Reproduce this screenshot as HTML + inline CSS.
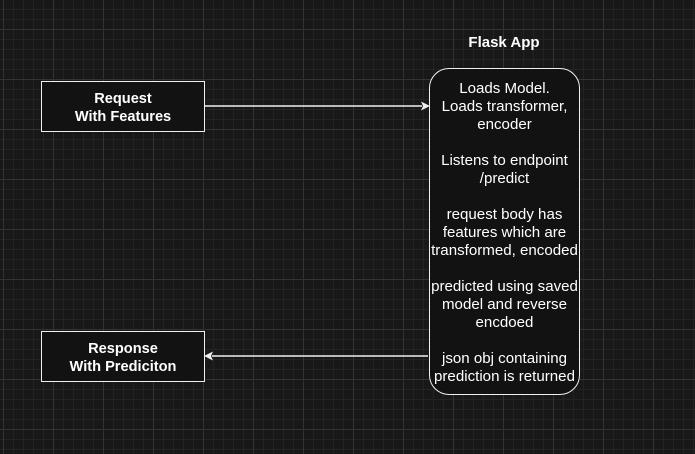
<!DOCTYPE html>
<html><head><style>
html,body{margin:0;padding:0}
body{width:695px;height:454px;overflow:hidden;position:relative;font-family:"Liberation Sans",Arial,sans-serif;
background-color:#181818;
background-image:
linear-gradient(90deg,#333 1px,transparent 1px),
linear-gradient(0deg,#333 1px,transparent 1px),
linear-gradient(90deg,#232323 1px,transparent 1px),
linear-gradient(0deg,#232323 1px,transparent 1px);
background-size:50px 50px,50px 50px,10px 10px,10px 10px;
background-position:3px 0,0 30px,3px 0,0 0;}
.box{position:absolute;box-sizing:border-box;border:1.5px solid #f0f0f0;background:#121212;color:#fff;display:flex;align-items:center;justify-content:center;text-align:center;}
.b{font-weight:bold;font-size:14.6px;line-height:18px;padding-top:2px}
</style></head><body>
<div class="box b" style="left:41px;top:81px;width:164px;height:51px">Request<br>With Features</div>
<div class="box b" style="left:41px;top:331px;width:164px;height:51px">Response<br>With Prediciton</div>
<div style="position:absolute;left:404px;top:34px;width:200px;text-align:center;color:#fff;font-weight:bold;font-size:15px">Flask App</div>
<div class="box" style="left:429px;top:68px;width:151px;height:327px;border-radius:20px;font-size:15.1px;line-height:18px;white-space:nowrap;padding-top:2px">Loads Model.<br>Loads transformer,<br>encoder<br><br>Listens to endpoint<br>/predict<br><br>request body has<br>features which are<br>transformed, encoded<br><br>predicted using saved<br>model and reverse<br>encdoed<br><br>json obj containing<br>prediction is returned</div>
<svg width="695" height="454" style="position:absolute;left:0;top:0">
<line x1="205" y1="106" x2="422" y2="106" stroke="#f0f0f0" stroke-width="1.5"/>
<polygon points="430,106 421,101.5 423,106 421,110.5" fill="#f0f0f0"/>
<line x1="428" y1="356" x2="212" y2="356" stroke="#f0f0f0" stroke-width="1.5"/>
<polygon points="204,356 213,351.5 211,356 213,360.5" fill="#f0f0f0"/>
</svg>
</body></html>
